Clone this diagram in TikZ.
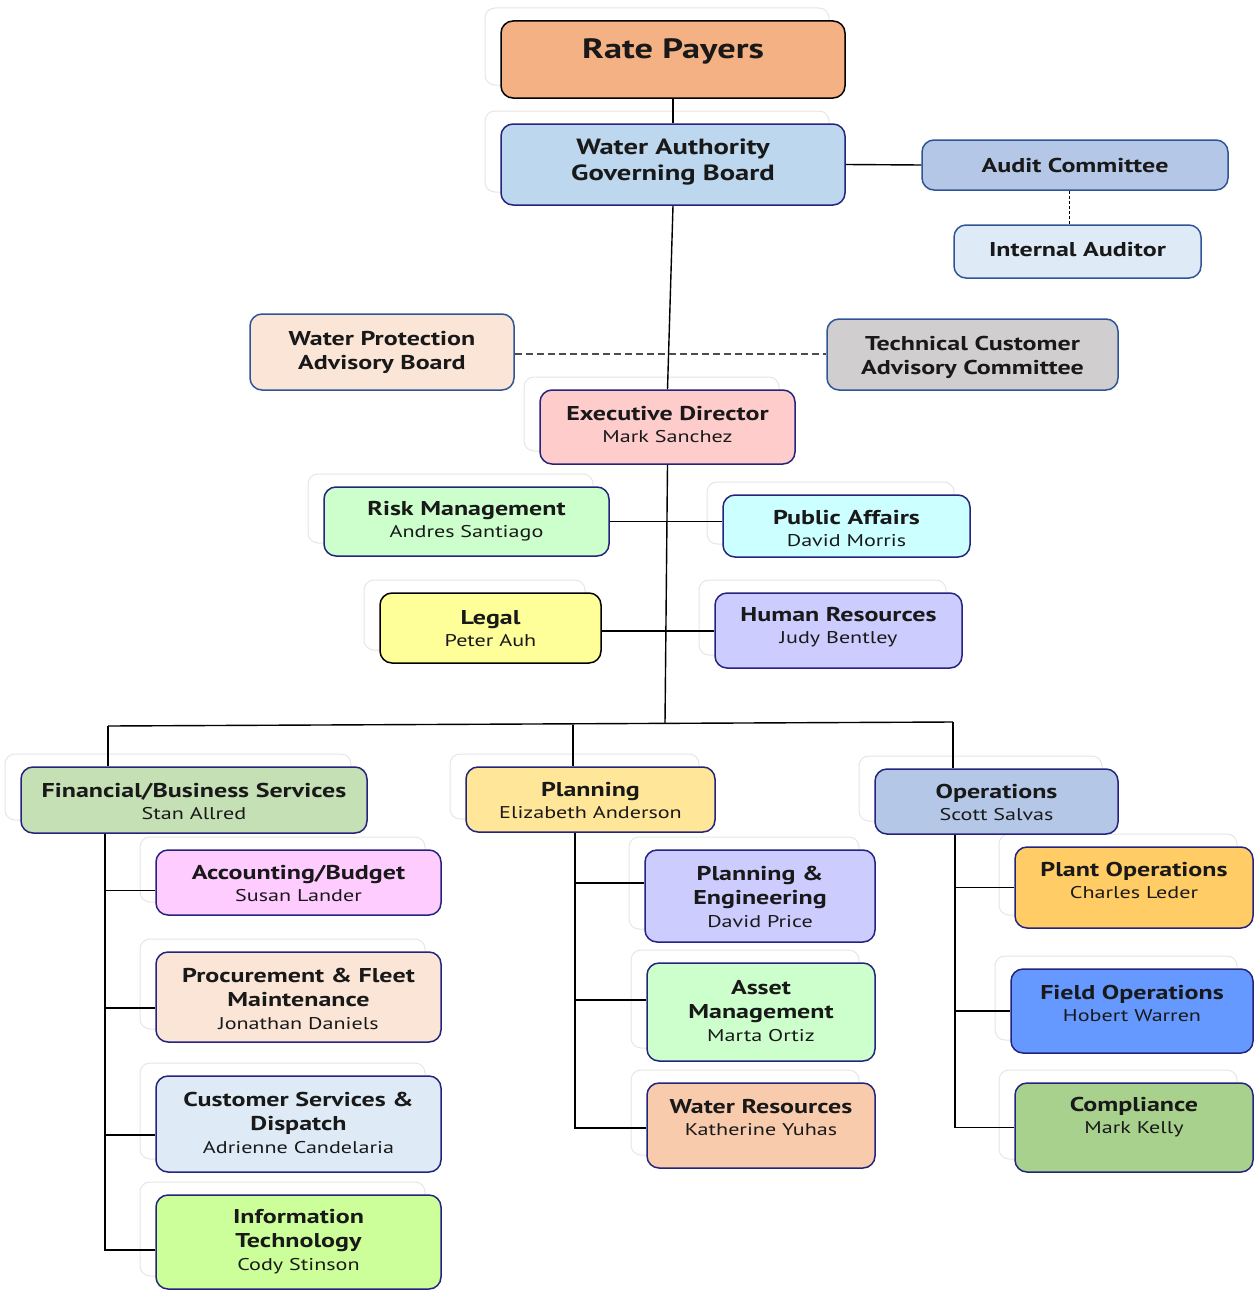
\documentclass[tikz,border=0pt]{standalone}
\usepackage{fontspec}
\setmainfont{PT Sans}[FakeStretch=1.3]
\definecolor{navyb}{HTML}{24247F}
\definecolor{steelb}{HTML}{2F5597}
\definecolor{cRate}{HTML}{F4B183}
\definecolor{cGov}{HTML}{BDD7EE}
\definecolor{cAudit}{HTML}{B4C7E7}
\definecolor{cIA}{HTML}{DEEBF7}
\definecolor{cWP}{HTML}{FBE5D6}
\definecolor{cTech}{HTML}{D0CECE}
\definecolor{cExec}{HTML}{FFCCCC}
\definecolor{cRisk}{HTML}{CCFFCC}
\definecolor{cPA}{HTML}{CCFFFF}
\definecolor{cLegal}{HTML}{FFFF99}
\definecolor{cHR}{HTML}{CCCCFF}
\definecolor{cFin}{HTML}{C5E0B4}
\definecolor{cPlan}{HTML}{FFE699}
\definecolor{cOps}{HTML}{B4C7E7}
\definecolor{cAcc}{HTML}{FFCCFF}
\definecolor{cProc}{HTML}{FBE5D6}
\definecolor{cCust}{HTML}{DEEBF7}
\definecolor{cIT}{HTML}{CCFF99}
\definecolor{cPE}{HTML}{CCCCFF}
\definecolor{cAsset}{HTML}{CCFFCC}
\definecolor{cWR}{HTML}{F8CBAD}
\definecolor{cPlant}{HTML}{FFCC66}
\definecolor{cField}{HTML}{6699FF}
\definecolor{cComp}{HTML}{A9D18E}
\definecolor{ghostc}{HTML}{E6E6E6}
\newcommand\pname[1]{{\fontsize{17}{21}\selectfont\mdseries #1}}
\newcommand\ghostbox[4]{\draw[ghostline] ({#1-16},{#2-13}) rectangle ({#3-16},{#4-13});}
% name, x1, y1, x2, y2, style, dy, text
\newcommand\orgbox[8]{%
  \node[orgshape,#6,minimum width={#4-#2},minimum height={#5-#3}] (#1) at ({(#2+#4)/2},{(#3+#5)/2}) {};
  \node[orgtext] (#1-t) at ([yshift={-(#7)*1pt}]#1.center) {#8};
}
\tikzset{
  ghostline/.style={draw=ghostc,line width=1pt,fill=white,rounded corners=10pt},
  orgshape/.style={draw=navyb,line width=1.5pt,rounded corners=12pt,inner sep=0pt},
  orgtext/.style={align=center,inner sep=0pt,text=black!90,font=\fontsize{20}{24}\selectfont\bfseries},
  conn/.style={draw=black,line width=1.4pt},
  dashconn/.style={draw=black!70,line width=1.3pt,dash pattern=on 7pt off 4pt},
  smalldash/.style={draw=black,line width=1pt,dash pattern=on 3pt off 2pt}
}
\begin{document}
\begin{tikzpicture}[x=1pt,y=-1pt]
\useasboundingbox[fill=white] (0,0) rectangle (1259,1290);
% ghost boxes
\ghostbox{501}{21}{845}{98}
\ghostbox{501}{124}{845}{205}
\ghostbox{540}{390}{795}{464}
\ghostbox{324}{487}{609}{556}
\ghostbox{723}{495}{970}{557}
\ghostbox{380}{593}{601}{663}
\ghostbox{715}{593}{962}{668}
\ghostbox{21}{767}{367}{833}
\ghostbox{466}{767}{715}{832}
\ghostbox{875}{769}{1118}{834}
\ghostbox{156}{850}{441}{915}
\ghostbox{156}{952}{441}{1042}
\ghostbox{156}{1076}{441}{1172}
\ghostbox{156}{1195}{441}{1289}
\ghostbox{645}{850}{875}{942}
\ghostbox{647}{963}{875}{1061}
\ghostbox{647}{1083}{875}{1168}
\ghostbox{1015}{847}{1253}{928}
\ghostbox{1011}{969}{1253}{1053}
\ghostbox{1015}{1083}{1253}{1172}
% boxes
\orgbox{rate}{501}{21}{845}{98}{fill=cRate,draw=black}{-8}{\fontsize{28}{34}\selectfont Rate Payers}
\orgbox{gov}{501}{124}{845}{205}{fill=cGov}{-2}{\fontsize{22}{27}\selectfont Water Authority\\[2pt]\fontsize{22}{27}\selectfont Governing Board}
\orgbox{audit}{922}{140}{1228}{190}{fill=cAudit,draw=steelb}{0}{Audit Committee}
\orgbox{ia}{954}{225}{1201}{278}{fill=cIA,draw=steelb}{-2}{Internal Auditor}
\orgbox{wp}{250}{314}{514}{390}{fill=cWP,draw=steelb}{0}{Water Protection\\Advisory Board}
\orgbox{tech}{827}{319}{1118}{390}{fill=cTech,draw=steelb}{3}{Technical Customer\\Advisory Committee}
\orgbox{exec}{540}{390}{795}{464}{fill=cExec}{-3}{Executive Director\\[-2pt]\pname{Mark Sanchez}}
\orgbox{risk}{324}{487}{609}{556}{fill=cRisk}{0}{Risk Management\\[-2pt]\pname{Andres Santiago}}
\orgbox{pa}{723}{495}{970}{557}{fill=cPA}{2}{Public Affairs\\[-2pt]\pname{David Morris}}
\orgbox{legal}{380}{593}{601}{663}{fill=cLegal,draw=black}{1}{Legal\\[-2pt]\pname{Peter Auh}}
\orgbox{hr}{715}{593}{962}{668}{fill=cHR}{-3}{Human Resources\\[-2pt]\pname{Judy Bentley}}
\orgbox{fin}{21}{767}{367}{833}{fill=cFin}{1}{Financial/Business Services\\[-2pt]\pname{Stan Allred}}
\orgbox{plan}{466}{767}{715}{832}{fill=cPlan}{1}{Planning\\[-2pt]\pname{Elizabeth Anderson}}
\orgbox{ops}{875}{769}{1118}{834}{fill=cOps}{1}{Operations\\[-2pt]\pname{Scott Salvas}}
\orgbox{acc}{156}{850}{441}{915}{fill=cAcc}{1}{Accounting/Budget\\[-2pt]\pname{Susan Lander}}
\orgbox{proc}{156}{952}{441}{1042}{fill=cProc}{2}{Procurement \& Fleet\\Maintenance\\[-1pt]\pname{Jonathan Daniels}}
\orgbox{cust}{156}{1076}{441}{1172}{fill=cCust}{-1}{Customer Services \&\\Dispatch\\[-1pt]\pname{Adrienne Candelaria}}
\orgbox{it}{156}{1195}{441}{1289}{fill=cIT}{0}{Information\\Technology\\[-1pt]\pname{Cody Stinson}}
\orgbox{pe}{645}{850}{875}{942}{fill=cPE}{1}{Planning \&\\Engineering\\[-1pt]\pname{David Price}}
\orgbox{asset}{647}{963}{875}{1061}{fill=cAsset}{-1}{Asset\\Management\\[-1pt]\pname{Marta Ortiz}}
\orgbox{wr}{647}{1083}{875}{1168}{fill=cWR}{-8}{Water Resources\\[-2pt]\pname{Katherine Yuhas}}
\orgbox{plant}{1015}{847}{1253}{928}{fill=cPlant}{-7}{Plant Operations\\[-2pt]\pname{Charles Leder}}
\orgbox{field}{1011}{969}{1253}{1053}{fill=cField}{-8}{Field Operations\\[-2pt]\pname{Hobert Warren}}
\orgbox{comp}{1015}{1083}{1253}{1172}{fill=cComp}{-10}{Compliance\\[-2pt]\pname{Mark Kelly}}
% top connectors
\draw[conn] (rate) -- (gov);
\draw[conn] (gov.south) -- (exec.north);
\draw[conn] (gov.east) -- (audit.west);
\coordinate (auditS) at ([xshift=-6pt]audit.south);
\draw[smalldash] (auditS) -- (auditS |- ia.north);
\coordinate (wpS) at ([yshift=-2pt]wp.east);
\draw[dashconn] (wpS) -- (wpS -| tech.west);
\coordinate (busC) at (665,723);
\coordinate (busL) at (108,726);
\coordinate (busM) at (573,724.5);
\coordinate (busR) at (953,722);
\draw[conn] (exec.south) -- (busC);
\draw[conn] (risk.east) -- (risk.east -| pa.west);
\coordinate (legalS) at ([yshift=-3pt]legal.east);
\draw[conn] (legalS) -- (legalS -| hr.west);
\draw[conn] (busL) -- (busR);
\draw[conn] (busL) -- (busL |- fin.north);
\draw[conn] (busM) -- (busM |- plan.north);
\draw[conn] (busR) -- (busR |- ops.north);
% financial branch
\coordinate (fT) at (105,0);
\coordinate (accS) at ([yshift=-8pt]acc.west);
\coordinate (procS) at ([yshift=-11pt]proc.west);
\coordinate (custS) at ([yshift=-11pt]cust.west);
\coordinate (itS) at ([yshift=-8pt]it.west);
\draw[conn] (fT |- fin.south) -- (fT |- itS) -- (itS);
\draw[conn] (fT |- accS) -- (accS);
\draw[conn] (fT |- procS) -- (procS);
\draw[conn] (fT |- custS) -- (custS);
% planning branch
\coordinate (pT) at (575,0);
\coordinate (peS) at ([yshift=13pt]pe.west);
\coordinate (assetS) at ([yshift=12pt]asset.west);
\coordinate (wrS) at ([yshift=-2.5pt]wr.west);
\draw[conn] (pT |- plan.south) -- (pT |- wrS) -- (wrS);
\draw[conn] (pT |- peS) -- (peS);
\draw[conn] (pT |- assetS) -- (assetS);
% operations branch
\coordinate (oT) at (955,0);
\draw[conn] (oT |- ops.south) -- (oT |- comp.west) -- (comp.west);
\draw[conn] (oT |- plant.west) -- (plant.west);
\draw[conn] (oT |- field.west) -- (field.west);
\end{tikzpicture}
\end{document}
